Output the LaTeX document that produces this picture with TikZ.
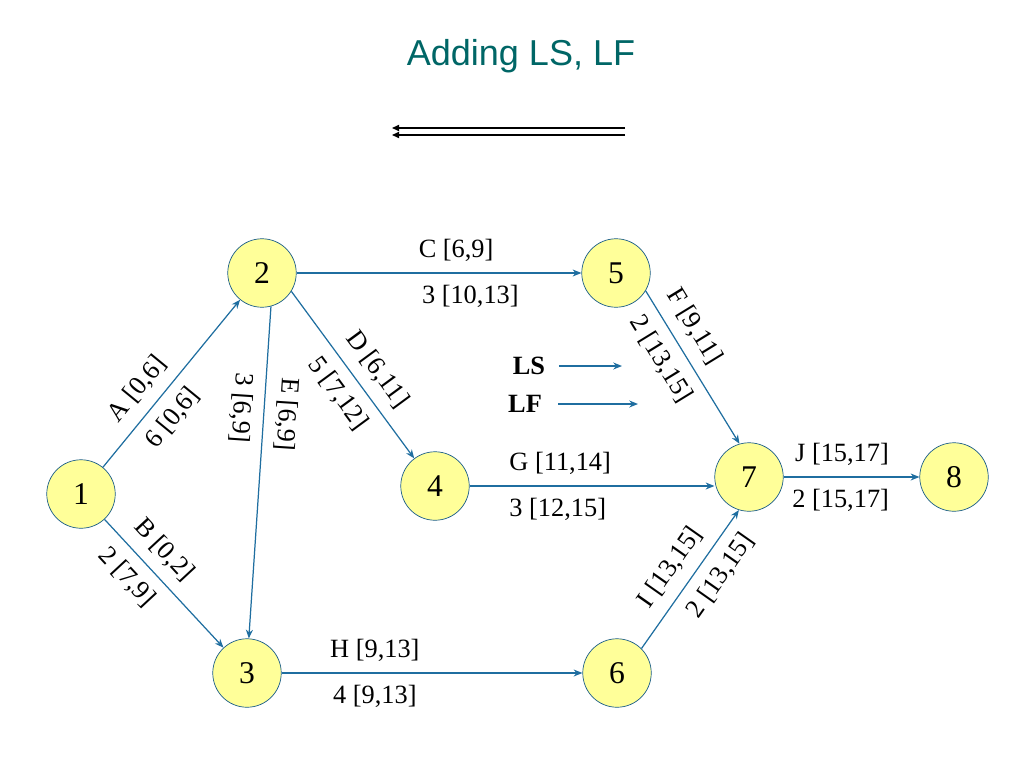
\documentclass[tikz,border=0pt]{standalone}
\usepackage{fontspec}
\setmainfont{Liberation Serif}
\newfontfamily\titlefont{Liberation Sans}
\usetikzlibrary{arrows.meta}
\definecolor{edgeblue}{RGB}{31,110,160}
\definecolor{nodeyellow}{RGB}{255,255,153}
\definecolor{titlegreen}{RGB}{0,102,102}

\begin{document}
\begin{tikzpicture}[x=0.02cm, y=-0.02cm,
    event/.style={draw=edgeblue!85!black, fill=nodeyellow, circle, minimum size=1.37cm, inner sep=0pt, font=\fontsize{18}{21}\selectfont},
    act/.style={draw=edgeblue, line width=0.7pt, -{Stealth[length=5pt,width=4pt]}},
    back/.style={draw=black, line width=0.7pt, -{Triangle[length=4pt,width=3.5pt]}},
    lbl/.style={font=\fontsize{15}{17}\selectfont, sloped}]
    \useasboundingbox (0,0) rectangle (1023,767);

    % Title and direction of the pass
    \node[font=\titlefont\fontsize{20.5}{24}\selectfont, text=titlegreen] (title) at (521,56) {Adding LS, LF};
    \coordinate (backR1) at (625,128);
    \coordinate (backL1) at (392,128);
    \coordinate (backR2) at (625,135);
    \coordinate (backL2) at (392,135);
    \draw[back] (backR1) -- (backL1);
    \draw[back] (backR2) -- (backL2);

    % Events
    \node[event] (n1) at (81,494) {1};
    \node[event] (n2) at (262,273) {2};
    \node[event] (n3) at (247,673) {3};
    \node[event] (n4) at (435,486) {4};
    \node[event] (n5) at (616,273) {5};
    \node[event] (n6) at (617,673) {6};
    \node[event] (n7) at (749,477) {7};
    \node[event] (n8) at (954,477) {8};

    % Activities
    \draw[act] (n1) -- (n2) node[lbl, pos=0.38, above=3pt] {A [0,6]} node[lbl, pos=0.38, below=3pt] {6 [0,6]};
    \draw[act] (n1) -- (n3) node[lbl, pos=0.36, above=3pt] {B [0,2]} node[lbl, pos=0.33, below=3pt] {2 [7,9]};
    \draw[act] (n2) -- (n5) node[lbl, pos=0.56, above=3pt] {C [6,9]} node[lbl, pos=0.61, below=3pt] {3 [10,13]};
    \draw[act] (n2.-32) -- (n4.127) node[lbl, pos=0.55, above=3pt] {D [6,11]} node[lbl, pos=0.53, below=3pt] {5 [7,12]};
    \draw[act] (n2.-75) -- (n3.87) node[lbl, allow upside down, pos=0.32, above=3pt] {E [6,9]} node[lbl, allow upside down, pos=0.31, below=3pt] {3 [6,9]};
    \draw[act] (n5.-31) -- (n7.106) node[lbl, pos=0.31, above=3pt] {F [9,11]} node[lbl, pos=0.37, below=3pt] {2 [13,15]};
    \draw[act] (n4) -- (n4 -| n7.west) node[lbl, pos=0.37, above=3pt] {G [11,14]} node[lbl, pos=0.36, below=3pt] {3 [12,15]};
    \draw[act] (n3) -- (n6) node[lbl, pos=0.31, above=3pt] {H [9,13]} node[lbl, pos=0.31, below=3pt] {4 [9,13]};
    \draw[act] (n6.45) -- (n7.-107) node[lbl, pos=0.49, above=3pt] {I [13,15]} node[lbl, pos=0.62, below=3pt] {2 [13,15]};
    \draw[act] (n7) -- (n8) node[lbl, pos=0.43, above=3pt] {J [15,17]} node[lbl, pos=0.42, below=3pt] {2 [15,17]};

    % Legend
    \node[font=\bfseries\fontsize{15}{17}\selectfont] (ls) at (529,366) {LS};
    \node[font=\bfseries\fontsize{15}{17}\selectfont] (lf) at (525,404) {LF};
    \coordinate (lsend) at (622,366);
    \coordinate (lfend) at (638,404);
    \draw[act, shorten <=0.15cm] (ls) -- (lsend);
    \draw[act, shorten <=0.2cm] (lf) -- (lfend);
\end{tikzpicture}
\end{document}
